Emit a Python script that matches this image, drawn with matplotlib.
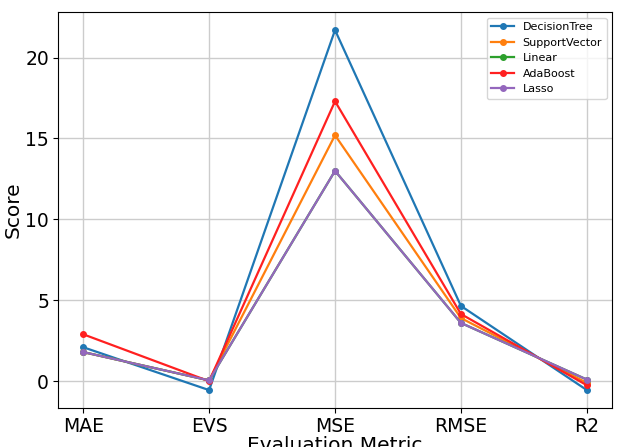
import matplotlib
matplotlib.use('AGG')
import matplotlib.pyplot as plt

metrics = ['MAE', 'EVS', 'MSE', 'RMSE', 'R2']
models = ['DecisionTree', 'SupportVector', 'Linear', 'AdaBoost', 'Lasso']
decision_tree = [2.1, -0.55, 21.7, 4.65, -0.55]
support_vector = [1.8, 0.05, 15.2, 3.9, -0.1]
linear = [1.8, 0.05, 13.0, 3.6, 0.1]
ada_boost = [2.9, 0.0, 17.3, 4.15, -0.25]
lasso = [1.8, 0.05, 13.0, 3.6, 0.1]
scores = [decision_tree, support_vector, linear, ada_boost, lasso]
colors = ['#1f77b4', '#ff7f0e', '#2ca02c', '#ff2020', '#9467bd']

fig = plt.figure(figsize=(6.17, 4.47), dpi=100)
ax = fig.add_axes([0.094, 0.087, 0.898, 0.886])
for name, vals, c in zip(models, scores, colors):
    ax.plot(metrics, vals, marker='o', markersize=4, lw=1.6, color=c, label=name)

ax.set_xlabel('Evaluation Metric', fontsize=14.5, labelpad=0)
ax.set_ylabel('Score', fontsize=14.5, labelpad=2)
ax.tick_params(labelsize=13.5, pad=3)
ax.grid(True, color='#cccccc', lw=1)
ax.legend(loc='upper right', fontsize=8)
plt.savefig('out.png')
